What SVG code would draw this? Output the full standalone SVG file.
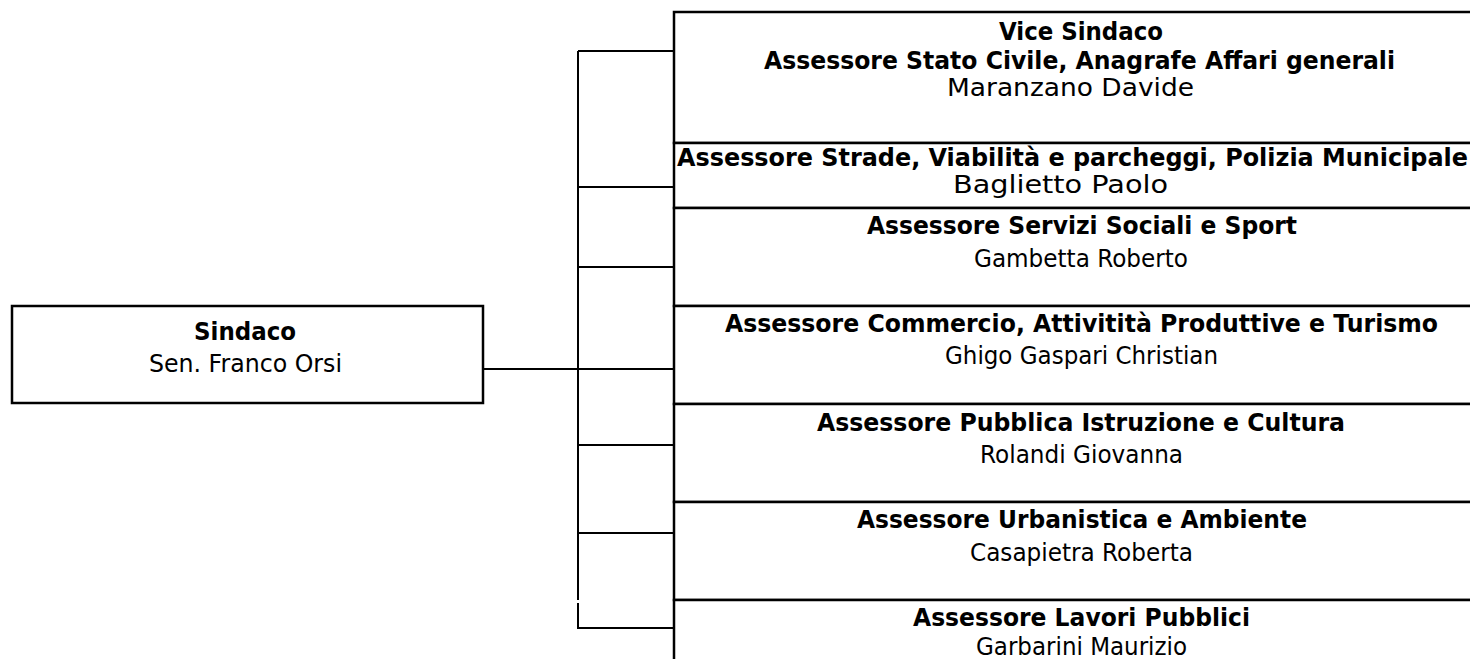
<svg xmlns="http://www.w3.org/2000/svg" width="1470" height="659" viewBox="0 0 1470 659">
<style>
.box{fill:#fff;stroke:#000;stroke-width:2.5}
.con{fill:none;stroke:#000;stroke-width:2}
text{font-family:"DejaVu Sans","Liberation Sans",sans-serif;font-size:24px;fill:#000}
.b{font-weight:bold}
</style>
<rect width="1470" height="659" fill="#fff"/>
<g id="connectors">
<path class="con" d="M483 369H674M578 51V600M578 603V628H674M578 51H674M578 187H674M578 267H674M578 445H674M578 533H674"/>
</g>
<g id="sindaco">
<rect class="box" x="12" y="306" width="471" height="97"/>
<text class="b" x="194" y="340" textLength="102" lengthAdjust="spacingAndGlyphs">Sindaco</text>
<text x="149" y="372" textLength="193" lengthAdjust="spacingAndGlyphs">Sen. Franco Orsi</text>
</g>
<g id="vicesindaco">
<rect class="box" x="674" y="12" width="820" height="131"/>
<text class="b" x="999" y="40" textLength="164" lengthAdjust="spacingAndGlyphs">Vice Sindaco</text>
<text class="b" x="764" y="69" textLength="631" lengthAdjust="spacingAndGlyphs">Assessore Stato Civile, Anagrafe Affari generali</text>
<text x="947" y="96" textLength="247" lengthAdjust="spacingAndGlyphs">Maranzano Davide</text>
</g>
<g id="strade">
<rect class="box" x="674" y="143" width="820" height="65"/>
<text class="b" x="677" y="166" textLength="791" lengthAdjust="spacingAndGlyphs">Assessore Strade, Viabilità e parcheggi, Polizia Municipale</text>
<text x="953" y="193" textLength="215" lengthAdjust="spacingAndGlyphs">Baglietto Paolo</text>
</g>
<g id="servizi">
<rect class="box" x="674" y="208" width="820" height="98"/>
<text class="b" x="867" y="234" textLength="430" lengthAdjust="spacingAndGlyphs">Assessore Servizi Sociali e Sport</text>
<text x="974" y="267" textLength="214" lengthAdjust="spacingAndGlyphs">Gambetta Roberto</text>
</g>
<g id="commercio">
<rect class="box" x="674" y="306" width="820" height="98"/>
<text class="b" x="725" y="332" textLength="713" lengthAdjust="spacingAndGlyphs">Assessore Commercio, Attivitità Produttive e Turismo</text>
<text x="945" y="364" textLength="273" lengthAdjust="spacingAndGlyphs">Ghigo Gaspari Christian</text>
</g>
<g id="istruzione">
<rect class="box" x="674" y="404" width="820" height="98"/>
<text class="b" x="817" y="431" textLength="528" lengthAdjust="spacingAndGlyphs">Assessore Pubblica Istruzione e Cultura</text>
<text x="980" y="463" textLength="203" lengthAdjust="spacingAndGlyphs">Rolandi Giovanna</text>
</g>
<g id="urbanistica">
<rect class="box" x="674" y="502" width="820" height="98"/>
<text class="b" x="857" y="528" textLength="450" lengthAdjust="spacingAndGlyphs">Assessore Urbanistica e Ambiente</text>
<text x="970" y="561" textLength="223" lengthAdjust="spacingAndGlyphs">Casapietra Roberta</text>
</g>
<g id="lavori">
<rect class="box" x="674" y="600" width="820" height="80"/>
<text class="b" x="913" y="626" textLength="337" lengthAdjust="spacingAndGlyphs">Assessore Lavori Pubblici</text>
<text x="976" y="655" textLength="211" lengthAdjust="spacingAndGlyphs">Garbarini Maurizio</text>
</g>
</svg>
